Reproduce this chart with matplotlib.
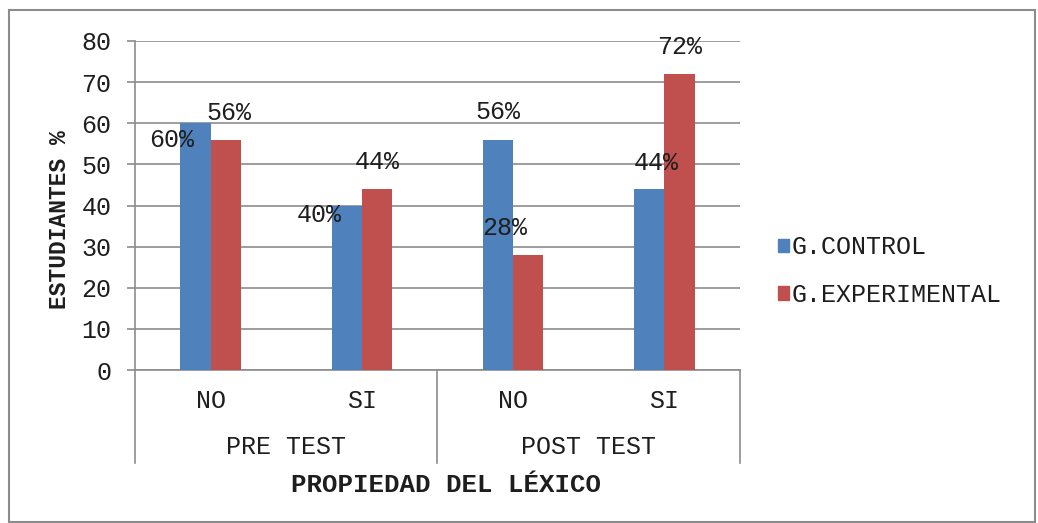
import matplotlib
matplotlib.use("Agg")
import matplotlib.pyplot as plt
import matplotlib.transforms as mtransforms
from matplotlib.patches import Rectangle, Patch
import numpy as np

# datos
respuestas = ["NO", "SI", "NO", "SI"]
momentos = ["PRE TEST", "POST TEST"]
control = [60, 40, 56, 44]
experimental = [56, 44, 28, 72]
series = ["G.CONTROL", "G.EXPERIMENTAL"]

# desplazamiento de las etiquetas (pixeles) respecto al tope de cada barra
off_control = [(-24, -17), (-28, -10), (0, 28), (7, 26)]
off_experimental = [(3, 27), (0, 27), (-23, 27), (0, 27)]

plt.rcParams['font.family'] = ['Liberation Mono', 'DejaVu Sans Mono']
AZUL = "#4F81BD"
ROJO = "#C0504D"
GRIS = "#8C8C8C"
TXT = "#1e1e1e"
FS = 18

W, H = 1038, 523
fig = plt.figure(figsize=(W / 100, H / 100), dpi=100)
ax = fig.add_axes([135 / W, (H - 370) / H, 605 / W, 329 / H])

# borde exterior del grafico
fig.patches.append(Rectangle((9 / W, 1 / H), 1026 / W, 512 / H, transform=fig.transFigure,
                             fill=False, edgecolor=GRIS, linewidth=1.5))

x = np.arange(len(respuestas))
ancho = 0.2
b1 = ax.bar(x - ancho / 2, control, ancho, color=AZUL, zorder=3)
b2 = ax.bar(x + ancho / 2, experimental, ancho, color=ROJO, zorder=3)

for barras, vals, offs in [(b1, control, off_control), (b2, experimental, off_experimental)]:
    for b, v, (dx, dy) in zip(barras, vals, offs):
        ax.annotate(f"{v}%", (b.get_x() + b.get_width() / 2, v), xytext=(dx, dy),
                    textcoords="offset pixels", ha="center", va="center",
                    fontsize=FS, color=TXT, zorder=4)

ax.set_xlim(-0.5, 3.5)
ax.set_ylim(0, 80)
ax.set_yticks(range(0, 81, 10))
ax.yaxis.grid(True, color=GRIS, linewidth=1.2, zorder=0)
ax.tick_params(axis="y", length=6, color=GRIS, width=1.2, pad=11, labelsize=FS,
               labelcolor=TXT)
ax.set_xticks([])
for s in ["top", "right", "bottom"]:
    ax.spines[s].set_visible(False)
ax.spines["left"].set_color(GRIS)
ax.spines["left"].set_linewidth(1.2)

# ejes de categorias en dos niveles
tr = mtransforms.blended_transform_factory(ax.transData, ax.transAxes)
ax.plot([-0.5, 3.5], [0, 0], color=GRIS, linewidth=1.2, transform=tr, clip_on=False)
for xv in [-0.5, 1.5, 3.5]:
    ax.plot([xv, xv], [0, -93 / 329], color=GRIS, linewidth=1.2, transform=tr, clip_on=False)
for xi, r in zip(x, respuestas):
    ax.text(xi, -31 / 329, r, transform=tr, ha="center", va="center", fontsize=FS, color=TXT)
for xi, m in zip([0.5, 2.5], momentos):
    ax.text(xi, -77 / 329, m, transform=tr, ha="center", va="center", fontsize=FS, color=TXT)

fig.text(446 / W, 1 - 485 / H, "PROPIEDAD DEL LÉXICO", ha="center", va="center",
         fontsize=18.5, fontweight="bold", color=TXT)
fig.text(60 / W, 1 - 220 / H, "ESTUDIANTES %", ha="center", va="center",
         rotation=90, fontsize=16.5, fontweight="bold", color=TXT)

handles = [Patch(color=AZUL), Patch(color=ROJO)]
fig.legend(handles, series, loc="center left", bbox_to_anchor=(768 / W, 1 - 271 / H),
           frameon=False, fontsize=FS, handlelength=0.45, handleheight=0.45,
           handletextpad=0.1, labelspacing=0.95, borderaxespad=0, labelcolor=TXT)

fig.savefig("out.png", dpi=100)
